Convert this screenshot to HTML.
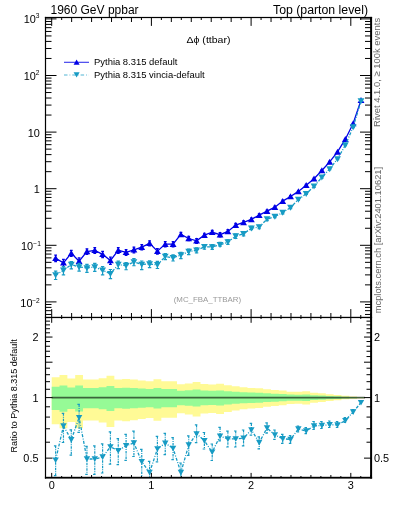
<!DOCTYPE html><html><head><meta charset="utf-8"><style>html,body{margin:0;padding:0;background:#fff;}svg{display:block;}text{font-family:"Liberation Sans",sans-serif;}</style></head><body>
<svg width="393" height="512" viewBox="0 0 393 512" style="will-change:transform">
<path d="M51.70,377.25 L59.53,377.25 L59.53,374.90 L67.36,374.90 L67.36,378.48 L75.19,378.48 L75.19,375.02 L83.02,375.02 L83.02,379.43 L90.85,379.43 L90.85,379.43 L98.68,379.43 L98.68,378.21 L106.51,378.21 L106.51,375.63 L114.34,375.63 L114.34,379.43 L122.17,379.43 L122.17,378.95 L130.00,378.95 L130.00,379.58 L137.83,379.58 L137.83,380.42 L145.67,380.42 L145.67,381.13 L153.50,381.13 L153.50,379.31 L161.33,379.31 L161.33,381.18 L169.16,381.18 L169.16,381.18 L176.99,381.18 L176.99,384.25 L184.82,384.25 L184.82,383.46 L192.65,383.46 L192.65,382.04 L200.48,382.04 L200.48,384.11 L208.31,384.11 L208.31,384.44 L216.14,384.44 L216.14,383.86 L223.97,383.86 L223.97,385.29 L231.80,385.29 L231.80,386.33 L239.63,386.33 L239.63,387.36 L247.46,387.36 L247.46,387.89 L255.29,387.89 L255.29,388.22 L263.12,388.22 L263.12,389.32 L270.95,389.32 L270.95,389.91 L278.78,389.91 L278.78,390.57 L286.61,390.57 L286.61,391.63 L294.44,391.63 L294.44,391.82 L302.27,391.82 L302.27,391.28 L310.10,391.28 L310.10,392.84 L317.93,392.84 L317.93,393.34 L325.76,393.34 L325.76,394.34 L333.60,394.34 L333.60,395.02 L341.43,395.02 L341.43,395.87 L349.26,395.87 L349.26,396.39 L357.09,396.39 L357.09,396.90 L364.92,396.90 L364.92,398.30 L357.09,398.30 L357.09,398.83 L349.26,398.83 L349.26,399.36 L341.43,399.36 L341.43,400.26 L333.60,400.26 L333.60,400.98 L325.76,400.98 L325.76,402.08 L317.93,402.08 L317.93,402.63 L310.10,402.63 L310.10,404.41 L302.27,404.41 L302.27,403.79 L294.44,403.79 L294.44,404.01 L286.61,404.01 L286.61,405.24 L278.78,405.24 L278.78,406.03 L270.95,406.03 L270.95,406.74 L263.12,406.74 L263.12,408.11 L255.29,408.11 L255.29,408.53 L247.46,408.53 L247.46,409.20 L239.63,409.20 L239.63,410.55 L231.80,410.55 L231.80,411.94 L223.97,411.94 L223.97,413.92 L216.14,413.92 L216.14,413.10 L208.31,413.10 L208.31,413.56 L200.48,413.56 L200.48,416.54 L192.65,416.54 L192.65,414.49 L184.82,414.49 L184.82,413.37 L176.99,413.37 L176.99,417.83 L169.16,417.83 L169.16,417.83 L161.33,417.83 L161.33,420.77 L153.50,420.77 L153.50,417.92 L145.67,417.92 L145.67,419.01 L137.83,419.01 L137.83,420.34 L130.00,420.34 L130.00,421.34 L122.17,421.34 L122.17,420.56 L114.34,420.56 L114.34,427.02 L106.51,427.02 L106.51,422.56 L98.68,422.56 L98.68,420.56 L90.85,420.56 L90.85,420.56 L83.02,420.56 L83.02,428.13 L75.19,428.13 L75.19,422.12 L67.36,422.12 L67.36,428.35 L59.53,428.35 L59.53,424.18 L51.70,424.18 Z" fill="#fffa96"/>
<path d="M51.70,386.83 L59.53,386.83 L59.53,385.52 L67.36,385.52 L67.36,387.52 L75.19,387.52 L75.19,385.58 L83.02,385.58 L83.02,388.05 L90.85,388.05 L90.85,388.05 L98.68,388.05 L98.68,387.37 L106.51,387.37 L106.51,385.93 L114.34,385.93 L114.34,388.05 L122.17,388.05 L122.17,387.78 L130.00,387.78 L130.00,388.12 L137.83,388.12 L137.83,388.59 L145.67,388.59 L145.67,388.97 L153.50,388.97 L153.50,387.98 L161.33,387.98 L161.33,389.01 L169.16,389.01 L169.16,389.01 L176.99,389.01 L176.99,390.67 L184.82,390.67 L184.82,390.24 L192.65,390.24 L192.65,389.47 L200.48,389.47 L200.48,390.60 L208.31,390.60 L208.31,390.77 L216.14,390.77 L216.14,390.46 L223.97,390.46 L223.97,391.23 L231.80,391.23 L231.80,391.78 L239.63,391.78 L239.63,392.33 L247.46,392.33 L247.46,392.61 L255.29,392.61 L255.29,392.78 L263.12,392.78 L263.12,393.36 L270.95,393.36 L270.95,393.67 L278.78,393.67 L278.78,394.02 L286.61,394.02 L286.61,394.56 L294.44,394.56 L294.44,394.66 L302.27,394.66 L302.27,394.38 L310.10,394.38 L310.10,395.19 L317.93,395.19 L317.93,395.44 L325.76,395.44 L325.76,395.96 L333.60,395.96 L333.60,396.30 L341.43,396.30 L341.43,396.73 L349.26,396.73 L349.26,396.99 L357.09,396.99 L357.09,397.25 L364.92,397.25 L364.92,397.95 L357.09,397.95 L357.09,398.21 L349.26,398.21 L349.26,398.48 L341.43,398.48 L341.43,398.92 L333.60,398.92 L333.60,399.28 L325.76,399.28 L325.76,399.81 L317.93,399.81 L317.93,400.08 L310.10,400.08 L310.10,400.94 L302.27,400.94 L302.27,400.64 L294.44,400.64 L294.44,400.75 L286.61,400.75 L286.61,401.34 L278.78,401.34 L278.78,401.71 L270.95,401.71 L270.95,402.05 L263.12,402.05 L263.12,402.70 L255.29,402.70 L255.29,402.89 L247.46,402.89 L247.46,403.21 L239.63,403.21 L239.63,403.83 L231.80,403.83 L231.80,404.48 L223.97,404.48 L223.97,405.38 L216.14,405.38 L216.14,405.01 L208.31,405.01 L208.31,405.22 L200.48,405.22 L200.48,406.56 L192.65,406.56 L192.65,405.64 L184.82,405.64 L184.82,405.13 L176.99,405.13 L176.99,407.13 L169.16,407.13 L169.16,407.13 L161.33,407.13 L161.33,408.42 L153.50,408.42 L153.50,407.17 L145.67,407.17 L145.67,407.65 L137.83,407.65 L137.83,408.23 L130.00,408.23 L130.00,408.67 L122.17,408.67 L122.17,408.33 L114.34,408.33 L114.34,411.08 L106.51,411.08 L106.51,409.19 L98.68,409.19 L98.68,408.33 L90.85,408.33 L90.85,408.33 L83.02,408.33 L83.02,411.54 L75.19,411.54 L75.19,409.00 L67.36,409.00 L67.36,411.63 L59.53,411.63 L59.53,409.88 L51.70,409.88 Z" fill="#96fa96"/>
<line x1="51.70" y1="397.6" x2="364.92" y2="397.6" stroke="#000" stroke-opacity="0.6" stroke-width="1.8"/>
<defs><clipPath id="cm"><rect x="45.5" y="17.5" width="325.5" height="300.0"/></clipPath><clipPath id="cr"><rect x="45.5" y="317.5" width="325.5" height="160.0"/></clipPath></defs>
<g clip-path="url(#cm)">
<polyline points="55.62,258.20 63.45,262.80 71.28,253.20 79.11,261.20 86.94,251.50 94.77,250.30 102.60,254.30 110.43,260.50 118.26,250.30 126.09,252.30 133.92,249.80 141.75,247.10 149.58,243.30 157.41,251.20 165.24,244.10 173.07,244.10 180.90,234.40 188.73,238.50 196.56,240.80 204.39,235.20 212.22,232.20 220.05,234.70 227.88,231.40 235.71,225.10 243.55,222.40 251.38,219.40 259.21,215.10 267.04,211.20 274.87,207.20 282.70,201.10 290.53,196.50 298.36,191.40 306.19,185.30 314.02,178.70 321.85,170.50 329.68,161.90 337.51,151.90 345.34,139.20 353.17,123.50 361.00,100.10" fill="none" stroke="#0000e6" stroke-width="1.3"/>
<path d="M55.62,255.17 V261.66 M54.22,255.17 H57.02 M54.22,261.66 H57.02" stroke="#0000e6" stroke-width="1.2" fill="none"/>
<path d="M63.45,259.40 V266.75 M62.05,259.40 H64.85 M62.05,266.75 H64.85" stroke="#0000e6" stroke-width="1.2" fill="none"/>
<path d="M71.28,250.36 V256.41 M69.88,250.36 H72.68 M69.88,256.41 H72.68" stroke="#0000e6" stroke-width="1.2" fill="none"/>
<path d="M79.11,257.82 V265.12 M77.71,257.82 H80.51 M77.71,265.12 H80.51" stroke="#0000e6" stroke-width="1.2" fill="none"/>
<path d="M86.94,248.81 V254.52 M85.54,248.81 H88.34 M85.54,254.52 H88.34" stroke="#0000e6" stroke-width="1.2" fill="none"/>
<path d="M94.77,247.61 V253.32 M93.37,247.61 H96.17 M93.37,253.32 H96.17" stroke="#0000e6" stroke-width="1.2" fill="none"/>
<path d="M102.60,251.42 V257.56 M101.20,251.42 H104.00 M101.20,257.56 H104.00" stroke="#0000e6" stroke-width="1.2" fill="none"/>
<path d="M110.43,257.21 V264.29 M109.03,257.21 H111.83 M109.03,264.29 H111.83" stroke="#0000e6" stroke-width="1.2" fill="none"/>
<path d="M118.26,247.61 V253.32 M116.86,247.61 H119.66 M116.86,253.32 H119.66" stroke="#0000e6" stroke-width="1.2" fill="none"/>
<path d="M126.09,249.54 V255.41 M124.69,249.54 H127.49 M124.69,255.41 H127.49" stroke="#0000e6" stroke-width="1.2" fill="none"/>
<path d="M133.92,247.13 V252.79 M132.52,247.13 H135.32 M132.52,252.79 H135.32" stroke="#0000e6" stroke-width="1.2" fill="none"/>
<path d="M141.75,244.56 V249.93 M140.35,244.56 H143.15 M140.35,249.93 H143.15" stroke="#0000e6" stroke-width="1.2" fill="none"/>
<path d="M149.58,240.87 V245.99 M148.18,240.87 H150.98 M148.18,245.99 H150.98" stroke="#0000e6" stroke-width="1.2" fill="none"/>
<path d="M157.41,248.49 V254.24 M156.01,248.49 H158.81 M156.01,254.24 H158.81" stroke="#0000e6" stroke-width="1.2" fill="none"/>
<path d="M165.24,241.68 V246.78 M163.84,241.68 H166.64 M163.84,246.78 H166.64" stroke="#0000e6" stroke-width="1.2" fill="none"/>
<path d="M173.07,241.68 V246.78 M171.67,241.68 H174.47 M171.67,246.78 H174.47" stroke="#0000e6" stroke-width="1.2" fill="none"/>
<path d="M180.90,232.45 V236.52 M179.50,232.45 H182.30 M179.50,236.52 H182.30" stroke="#0000e6" stroke-width="1.2" fill="none"/>
<path d="M188.73,236.43 V240.76 M187.33,236.43 H190.13 M187.33,240.76 H190.13" stroke="#0000e6" stroke-width="1.2" fill="none"/>
<path d="M196.56,238.51 V243.32 M195.16,238.51 H197.96 M195.16,243.32 H197.96" stroke="#0000e6" stroke-width="1.2" fill="none"/>
<path d="M204.39,233.23 V237.34 M202.99,233.23 H205.79 M202.99,237.34 H205.79" stroke="#0000e6" stroke-width="1.2" fill="none"/>
<path d="M212.22,230.28 V234.28 M210.82,230.28 H213.62 M210.82,234.28 H213.62" stroke="#0000e6" stroke-width="1.2" fill="none"/>
<path d="M220.05,232.69 V236.89 M218.65,232.69 H221.45 M218.65,236.89 H221.45" stroke="#0000e6" stroke-width="1.2" fill="none"/>
<path d="M227.88,229.61 V233.33 M226.48,229.61 H229.28 M226.48,233.33 H229.28" stroke="#0000e6" stroke-width="1.2" fill="none"/>
<path d="M235.71,223.46 V226.85 M234.31,223.46 H237.11 M234.31,226.85 H237.11" stroke="#0000e6" stroke-width="1.2" fill="none"/>
<path d="M243.55,220.92 V223.98 M242.15,220.92 H244.95 M242.15,223.98 H244.95" stroke="#0000e6" stroke-width="1.2" fill="none"/>
<path d="M251.38,218.00 V220.89 M249.98,218.00 H252.78 M249.98,220.89 H252.78" stroke="#0000e6" stroke-width="1.2" fill="none"/>
<path d="M259.21,213.74 V216.53 M257.81,213.74 H260.61 M257.81,216.53 H260.61" stroke="#0000e6" stroke-width="1.2" fill="none"/>
<path d="M267.04,210.01 V212.45 M265.64,210.01 H268.44 M265.64,212.45 H268.44" stroke="#0000e6" stroke-width="1.2" fill="none"/>
<path d="M274.87,206.09 V208.36 M273.47,206.09 H276.27 M273.47,208.36 H276.27" stroke="#0000e6" stroke-width="1.2" fill="none"/>
<path d="M282.70,200.09 V202.15 M281.30,200.09 H284.10 M281.30,202.15 H284.10" stroke="#0000e6" stroke-width="1.2" fill="none"/>
<path d="M290.53,195.64 V197.39 M289.13,195.64 H291.93 M289.13,197.39 H291.93" stroke="#0000e6" stroke-width="1.2" fill="none"/>
<path d="M298.36,190.57 V192.26 M296.96,190.57 H299.76 M296.96,192.26 H299.76" stroke="#0000e6" stroke-width="1.2" fill="none"/>
<path d="M306.19,184.40 V186.24 M304.79,184.40 H307.59 M304.79,186.24 H307.59" stroke="#0000e6" stroke-width="1.2" fill="none"/>
<path d="M314.02,178.02 V179.40 M312.62,178.02 H315.42 M312.62,179.40 H315.42" stroke="#0000e6" stroke-width="1.2" fill="none"/>
<path d="M321.85,169.89 V171.12 M320.45,169.89 H323.25 M320.45,171.12 H323.25" stroke="#0000e6" stroke-width="1.2" fill="none"/>
<path d="M329.68,161.44 V162.37 M328.28,161.44 H331.08 M328.28,162.37 H331.08" stroke="#0000e6" stroke-width="1.2" fill="none"/>
<path d="M337.51,151.53 V152.27 M336.11,151.53 H338.91 M336.11,152.27 H338.91" stroke="#0000e6" stroke-width="1.2" fill="none"/>
<path d="M345.34,138.96 V139.45 M343.94,138.96 H346.74 M343.94,139.45 H346.74" stroke="#0000e6" stroke-width="1.2" fill="none"/>
<path d="M353.17,123.33 V123.67 M351.77,123.33 H354.57 M351.77,123.67 H354.57" stroke="#0000e6" stroke-width="1.2" fill="none"/>
<path d="M361.00,100.00 V100.20 M359.60,100.00 H362.40 M359.60,100.20 H362.40" stroke="#0000e6" stroke-width="1.2" fill="none"/>
<path d="M55.62,255.00 L59.04,261.02 L52.19,261.02 Z" fill="#0000e6"/>
<path d="M63.45,259.60 L66.87,265.62 L60.02,265.62 Z" fill="#0000e6"/>
<path d="M71.28,250.00 L74.70,256.02 L67.85,256.02 Z" fill="#0000e6"/>
<path d="M79.11,258.00 L82.53,264.02 L75.68,264.02 Z" fill="#0000e6"/>
<path d="M86.94,248.30 L90.36,254.32 L83.51,254.32 Z" fill="#0000e6"/>
<path d="M94.77,247.10 L98.19,253.12 L91.34,253.12 Z" fill="#0000e6"/>
<path d="M102.60,251.10 L106.02,257.12 L99.17,257.12 Z" fill="#0000e6"/>
<path d="M110.43,257.30 L113.85,263.32 L107.00,263.32 Z" fill="#0000e6"/>
<path d="M118.26,247.10 L121.68,253.12 L114.83,253.12 Z" fill="#0000e6"/>
<path d="M126.09,249.10 L129.51,255.12 L122.66,255.12 Z" fill="#0000e6"/>
<path d="M133.92,246.60 L137.34,252.62 L130.50,252.62 Z" fill="#0000e6"/>
<path d="M141.75,243.90 L145.17,249.92 L138.33,249.92 Z" fill="#0000e6"/>
<path d="M149.58,240.10 L153.00,246.12 L146.16,246.12 Z" fill="#0000e6"/>
<path d="M157.41,248.00 L160.83,254.02 L153.99,254.02 Z" fill="#0000e6"/>
<path d="M165.24,240.90 L168.67,246.92 L161.82,246.92 Z" fill="#0000e6"/>
<path d="M173.07,240.90 L176.50,246.92 L169.65,246.92 Z" fill="#0000e6"/>
<path d="M180.90,231.20 L184.33,237.22 L177.48,237.22 Z" fill="#0000e6"/>
<path d="M188.73,235.30 L192.16,241.32 L185.31,241.32 Z" fill="#0000e6"/>
<path d="M196.56,237.60 L199.99,243.62 L193.14,243.62 Z" fill="#0000e6"/>
<path d="M204.39,232.00 L207.82,238.02 L200.97,238.02 Z" fill="#0000e6"/>
<path d="M212.22,229.00 L215.65,235.02 L208.80,235.02 Z" fill="#0000e6"/>
<path d="M220.05,231.50 L223.48,237.52 L216.63,237.52 Z" fill="#0000e6"/>
<path d="M227.88,228.20 L231.31,234.22 L224.46,234.22 Z" fill="#0000e6"/>
<path d="M235.71,221.90 L239.14,227.92 L232.29,227.92 Z" fill="#0000e6"/>
<path d="M243.55,219.20 L246.97,225.22 L240.12,225.22 Z" fill="#0000e6"/>
<path d="M251.38,216.20 L254.80,222.22 L247.95,222.22 Z" fill="#0000e6"/>
<path d="M259.21,211.90 L262.63,217.92 L255.78,217.92 Z" fill="#0000e6"/>
<path d="M267.04,208.00 L270.46,214.02 L263.61,214.02 Z" fill="#0000e6"/>
<path d="M274.87,204.00 L278.29,210.02 L271.44,210.02 Z" fill="#0000e6"/>
<path d="M282.70,197.90 L286.12,203.92 L279.27,203.92 Z" fill="#0000e6"/>
<path d="M290.53,193.30 L293.95,199.32 L287.10,199.32 Z" fill="#0000e6"/>
<path d="M298.36,188.20 L301.78,194.22 L294.93,194.22 Z" fill="#0000e6"/>
<path d="M306.19,182.10 L309.61,188.12 L302.76,188.12 Z" fill="#0000e6"/>
<path d="M314.02,175.50 L317.44,181.52 L310.60,181.52 Z" fill="#0000e6"/>
<path d="M321.85,167.30 L325.27,173.32 L318.43,173.32 Z" fill="#0000e6"/>
<path d="M329.68,158.70 L333.10,164.72 L326.26,164.72 Z" fill="#0000e6"/>
<path d="M337.51,148.70 L340.93,154.72 L334.09,154.72 Z" fill="#0000e6"/>
<path d="M345.34,136.00 L348.76,142.02 L341.92,142.02 Z" fill="#0000e6"/>
<path d="M353.17,120.30 L356.60,126.32 L349.75,126.32 Z" fill="#0000e6"/>
<path d="M361.00,96.90 L364.43,102.92 L357.58,102.92 Z" fill="#0000e6"/>
<polyline points="55.62,275.13 63.45,270.28 71.28,264.50 79.11,266.99 86.94,267.97 94.77,267.02 102.60,270.39 110.43,273.70 118.26,264.60 126.09,265.63 133.92,261.97 141.75,264.45 149.58,264.02 157.41,264.91 165.24,256.45 173.07,257.81 180.90,255.12 188.73,251.60 196.56,250.32 204.39,246.84 212.22,246.95 220.05,244.90 227.88,242.14 235.71,236.18 243.55,233.79 251.38,228.21 259.21,226.95 267.04,219.16 274.87,216.48 282.70,212.66 290.53,207.56 298.36,199.45 306.19,193.78 314.02,186.31 321.85,177.41 329.68,168.94 337.51,158.97 345.34,145.17 353.17,127.11 361.00,101.08" fill="none" stroke="#179bc4" stroke-width="1.3" stroke-dasharray="3,1.5,1,1.5"/>
<path d="M55.62,271.10 V279.49 M53.92,271.10 H57.32 M53.92,279.49 H57.32" stroke="#179bc4" stroke-width="1.2" fill="none"/>
<path d="M63.45,266.70 V274.92 M61.75,266.70 H65.15 M61.75,274.92 H65.15" stroke="#179bc4" stroke-width="1.2" fill="none"/>
<path d="M71.28,261.72 V268.87 M69.58,261.72 H72.98 M69.58,268.87 H72.98" stroke="#179bc4" stroke-width="1.2" fill="none"/>
<path d="M79.11,263.28 V271.13 M77.41,263.28 H80.81 M77.41,271.13 H80.81" stroke="#179bc4" stroke-width="1.2" fill="none"/>
<path d="M86.94,264.40 V272.28 M85.24,264.40 H88.64 M85.24,272.28 H88.64" stroke="#179bc4" stroke-width="1.2" fill="none"/>
<path d="M94.77,263.31 V271.33 M93.07,263.31 H96.47 M93.07,271.33 H96.47" stroke="#179bc4" stroke-width="1.2" fill="none"/>
<path d="M102.60,266.67 V274.89 M100.90,266.67 H104.30 M100.90,274.89 H104.30" stroke="#179bc4" stroke-width="1.2" fill="none"/>
<path d="M110.43,269.48 V278.57 M108.73,269.48 H112.13 M108.73,278.57 H112.13" stroke="#179bc4" stroke-width="1.2" fill="none"/>
<path d="M118.26,261.22 V268.54 M116.56,261.22 H119.96 M116.56,268.54 H119.96" stroke="#179bc4" stroke-width="1.2" fill="none"/>
<path d="M126.09,262.48 V269.77 M124.39,262.48 H127.79 M124.39,269.77 H127.79" stroke="#179bc4" stroke-width="1.2" fill="none"/>
<path d="M133.92,258.62 V265.77 M132.22,258.62 H135.62 M132.22,265.77 H135.62" stroke="#179bc4" stroke-width="1.2" fill="none"/>
<path d="M141.75,260.99 V269.60 M140.05,260.99 H143.45 M140.05,269.60 H143.45" stroke="#179bc4" stroke-width="1.2" fill="none"/>
<path d="M149.58,260.87 V267.54 M147.88,260.87 H151.28 M147.88,267.54 H151.28" stroke="#179bc4" stroke-width="1.2" fill="none"/>
<path d="M157.41,261.34 V268.52 M155.71,261.34 H159.11 M155.71,268.52 H159.11" stroke="#179bc4" stroke-width="1.2" fill="none"/>
<path d="M165.24,253.66 V259.68 M163.54,253.66 H166.94 M163.54,259.68 H166.94" stroke="#179bc4" stroke-width="1.2" fill="none"/>
<path d="M173.07,254.80 V261.02 M171.37,254.80 H174.77 M171.37,261.02 H174.77" stroke="#179bc4" stroke-width="1.2" fill="none"/>
<path d="M180.90,252.45 V258.64 M179.20,252.45 H182.60 M179.20,258.64 H182.60" stroke="#179bc4" stroke-width="1.2" fill="none"/>
<path d="M188.73,249.01 V254.53 M187.03,249.01 H190.43 M187.03,254.53 H190.43" stroke="#179bc4" stroke-width="1.2" fill="none"/>
<path d="M196.56,247.82 V252.83 M194.86,247.82 H198.26 M194.86,252.83 H198.26" stroke="#179bc4" stroke-width="1.2" fill="none"/>
<path d="M204.39,244.54 V249.18 M202.69,244.54 H206.09 M202.69,249.18 H206.09" stroke="#179bc4" stroke-width="1.2" fill="none"/>
<path d="M212.22,244.67 V249.31 M210.52,244.67 H213.92 M210.52,249.31 H213.92" stroke="#179bc4" stroke-width="1.2" fill="none"/>
<path d="M220.05,242.45 V246.25 M218.35,242.45 H221.75 M218.35,246.25 H221.75" stroke="#179bc4" stroke-width="1.2" fill="none"/>
<path d="M227.88,239.97 V244.42 M226.18,239.97 H229.58 M226.18,244.42 H229.58" stroke="#179bc4" stroke-width="1.2" fill="none"/>
<path d="M235.71,233.98 V238.49 M234.01,233.98 H237.41 M234.01,238.49 H237.41" stroke="#179bc4" stroke-width="1.2" fill="none"/>
<path d="M243.55,231.49 V235.93 M241.85,231.49 H245.25 M241.85,235.93 H245.25" stroke="#179bc4" stroke-width="1.2" fill="none"/>
<path d="M251.38,226.41 V229.70 M249.68,226.41 H253.08 M249.68,229.70 H253.08" stroke="#179bc4" stroke-width="1.2" fill="none"/>
<path d="M259.21,225.37 V228.75 M257.51,225.37 H260.91 M257.51,228.75 H260.91" stroke="#179bc4" stroke-width="1.2" fill="none"/>
<path d="M267.04,217.72 V220.59 M265.34,217.72 H268.74 M265.34,220.59 H268.74" stroke="#179bc4" stroke-width="1.2" fill="none"/>
<path d="M274.87,215.10 V217.75 M273.17,215.10 H276.57 M273.17,217.75 H276.57" stroke="#179bc4" stroke-width="1.2" fill="none"/>
<path d="M282.70,211.45 V213.96 M281.00,211.45 H284.40 M281.00,213.96 H284.40" stroke="#179bc4" stroke-width="1.2" fill="none"/>
<path d="M290.53,206.49 V208.66 M288.83,206.49 H292.23 M288.83,208.66 H292.23" stroke="#179bc4" stroke-width="1.2" fill="none"/>
<path d="M298.36,198.60 V200.24 M296.66,198.60 H300.06 M296.66,200.24 H300.06" stroke="#179bc4" stroke-width="1.2" fill="none"/>
<path d="M306.19,192.79 V194.51 M304.49,192.79 H307.89 M304.49,194.51 H307.89" stroke="#179bc4" stroke-width="1.2" fill="none"/>
<path d="M314.02,185.07 V187.33 M312.32,185.07 H315.72 M312.32,187.33 H315.72" stroke="#179bc4" stroke-width="1.2" fill="none"/>
<path d="M321.85,176.28 V178.25 M320.15,176.28 H323.55 M320.15,178.25 H323.55" stroke="#179bc4" stroke-width="1.2" fill="none"/>
<path d="M329.68,167.90 V169.73 M327.98,167.90 H331.38 M327.98,169.73 H331.38" stroke="#179bc4" stroke-width="1.2" fill="none"/>
<path d="M337.51,158.01 V159.70 M335.81,158.01 H339.21 M335.81,159.70 H339.21" stroke="#179bc4" stroke-width="1.2" fill="none"/>
<path d="M345.34,144.29 V145.70 M343.64,144.29 H347.04 M343.64,145.70 H347.04" stroke="#179bc4" stroke-width="1.2" fill="none"/>
<path d="M353.17,126.40 V127.53 M351.47,126.40 H354.87 M351.47,127.53 H354.87" stroke="#179bc4" stroke-width="1.2" fill="none"/>
<path d="M361.00,100.49 V101.34 M359.30,100.49 H362.70 M359.30,101.34 H362.70" stroke="#179bc4" stroke-width="1.2" fill="none"/>
<path d="M55.62,278.33 L59.04,272.31 L52.19,272.31 Z" fill="#179bc4"/>
<path d="M63.45,273.48 L66.87,267.46 L60.02,267.46 Z" fill="#179bc4"/>
<path d="M71.28,267.70 L74.70,261.69 L67.85,261.69 Z" fill="#179bc4"/>
<path d="M79.11,270.19 L82.53,264.18 L75.68,264.18 Z" fill="#179bc4"/>
<path d="M86.94,271.17 L90.36,265.15 L83.51,265.15 Z" fill="#179bc4"/>
<path d="M94.77,270.22 L98.19,264.20 L91.34,264.20 Z" fill="#179bc4"/>
<path d="M102.60,273.59 L106.02,267.57 L99.17,267.57 Z" fill="#179bc4"/>
<path d="M110.43,276.90 L113.85,270.89 L107.00,270.89 Z" fill="#179bc4"/>
<path d="M118.26,267.80 L121.68,261.79 L114.83,261.79 Z" fill="#179bc4"/>
<path d="M126.09,268.83 L129.51,262.82 L122.66,262.82 Z" fill="#179bc4"/>
<path d="M133.92,265.17 L137.34,259.15 L130.50,259.15 Z" fill="#179bc4"/>
<path d="M141.75,267.65 L145.17,261.63 L138.33,261.63 Z" fill="#179bc4"/>
<path d="M149.58,267.22 L153.00,261.20 L146.16,261.20 Z" fill="#179bc4"/>
<path d="M157.41,268.11 L160.83,262.10 L153.99,262.10 Z" fill="#179bc4"/>
<path d="M165.24,259.65 L168.67,253.63 L161.82,253.63 Z" fill="#179bc4"/>
<path d="M173.07,261.01 L176.50,255.00 L169.65,255.00 Z" fill="#179bc4"/>
<path d="M180.90,258.32 L184.33,252.30 L177.48,252.30 Z" fill="#179bc4"/>
<path d="M188.73,254.80 L192.16,248.78 L185.31,248.78 Z" fill="#179bc4"/>
<path d="M196.56,253.52 L199.99,247.51 L193.14,247.51 Z" fill="#179bc4"/>
<path d="M204.39,250.04 L207.82,244.03 L200.97,244.03 Z" fill="#179bc4"/>
<path d="M212.22,250.15 L215.65,244.13 L208.80,244.13 Z" fill="#179bc4"/>
<path d="M220.05,248.10 L223.48,242.08 L216.63,242.08 Z" fill="#179bc4"/>
<path d="M227.88,245.34 L231.31,239.33 L224.46,239.33 Z" fill="#179bc4"/>
<path d="M235.71,239.38 L239.14,233.36 L232.29,233.36 Z" fill="#179bc4"/>
<path d="M243.55,236.99 L246.97,230.98 L240.12,230.98 Z" fill="#179bc4"/>
<path d="M251.38,231.41 L254.80,225.40 L247.95,225.40 Z" fill="#179bc4"/>
<path d="M259.21,230.15 L262.63,224.13 L255.78,224.13 Z" fill="#179bc4"/>
<path d="M267.04,222.36 L270.46,216.34 L263.61,216.34 Z" fill="#179bc4"/>
<path d="M274.87,219.68 L278.29,213.66 L271.44,213.66 Z" fill="#179bc4"/>
<path d="M282.70,215.86 L286.12,209.85 L279.27,209.85 Z" fill="#179bc4"/>
<path d="M290.53,210.76 L293.95,204.75 L287.10,204.75 Z" fill="#179bc4"/>
<path d="M298.36,202.65 L301.78,196.63 L294.93,196.63 Z" fill="#179bc4"/>
<path d="M306.19,196.98 L309.61,190.96 L302.76,190.96 Z" fill="#179bc4"/>
<path d="M314.02,189.51 L317.44,183.50 L310.60,183.50 Z" fill="#179bc4"/>
<path d="M321.85,180.61 L325.27,174.59 L318.43,174.59 Z" fill="#179bc4"/>
<path d="M329.68,172.14 L333.10,166.13 L326.26,166.13 Z" fill="#179bc4"/>
<path d="M337.51,162.17 L340.93,156.16 L334.09,156.16 Z" fill="#179bc4"/>
<path d="M345.34,148.37 L348.76,142.35 L341.92,142.35 Z" fill="#179bc4"/>
<path d="M353.17,130.31 L356.60,124.29 L349.75,124.29 Z" fill="#179bc4"/>
<path d="M361.00,104.28 L364.43,98.27 L357.58,98.27 Z" fill="#179bc4"/>
</g>
<g clip-path="url(#cr)">
<polyline points="55.62,460.10 63.45,426.00 71.28,439.70 79.11,417.60 86.94,459.00 94.77,459.00 102.60,457.00 110.43,446.80 118.26,450.70 126.09,445.60 133.92,443.00 141.75,461.70 149.58,472.50 157.41,449.00 165.24,443.20 173.07,448.30 180.90,472.50 188.73,445.00 196.56,433.80 204.39,440.70 212.22,452.10 220.05,436.10 227.88,438.90 235.71,438.80 243.55,438.20 251.38,429.80 259.21,442.50 267.04,428.00 274.87,434.90 282.70,438.70 290.53,439.40 298.36,429.00 306.19,431.00 314.02,425.90 321.85,425.50 329.68,424.70 337.51,424.90 345.34,420.60 353.17,412.00 361.00,402.60" fill="none" stroke="#179bc4" stroke-width="1.3" stroke-dasharray="3,1.5,1,1.5"/>
<path d="M55.62,445.80 V475.60 M53.92,445.80 H57.32 M53.92,475.60 H57.32" stroke="#179bc4" stroke-width="1.2" stroke-dasharray="2.5,1,1,1" fill="none"/>
<path d="M63.45,413.30 V442.50 M61.75,413.30 H65.15 M61.75,442.50 H65.15" stroke="#179bc4" stroke-width="1.2" stroke-dasharray="2.5,1,1,1" fill="none"/>
<path d="M71.28,429.80 V455.20 M69.58,429.80 H72.98 M69.58,455.20 H72.98" stroke="#179bc4" stroke-width="1.2" stroke-dasharray="2.5,1,1,1" fill="none"/>
<path d="M79.11,404.40 V432.30 M77.41,404.40 H80.81 M77.41,432.30 H80.81" stroke="#179bc4" stroke-width="1.2" stroke-dasharray="2.5,1,1,1" fill="none"/>
<path d="M86.94,446.30 V474.30 M85.24,446.30 H88.64 M85.24,474.30 H88.64" stroke="#179bc4" stroke-width="1.2" stroke-dasharray="2.5,1,1,1" fill="none"/>
<path d="M94.77,445.80 V474.30 M93.07,445.80 H96.47 M93.07,474.30 H96.47" stroke="#179bc4" stroke-width="1.2" stroke-dasharray="2.5,1,1,1" fill="none"/>
<path d="M102.60,443.80 V473.00 M100.90,443.80 H104.30 M100.90,473.00 H104.30" stroke="#179bc4" stroke-width="1.2" stroke-dasharray="2.5,1,1,1" fill="none"/>
<path d="M110.43,431.80 V464.10 M108.73,431.80 H112.13 M108.73,464.10 H112.13" stroke="#179bc4" stroke-width="1.2" stroke-dasharray="2.5,1,1,1" fill="none"/>
<path d="M118.26,438.70 V464.70 M116.56,438.70 H119.96 M116.56,464.70 H119.96" stroke="#179bc4" stroke-width="1.2" stroke-dasharray="2.5,1,1,1" fill="none"/>
<path d="M126.09,434.40 V460.30 M124.39,434.40 H127.79 M124.39,460.30 H127.79" stroke="#179bc4" stroke-width="1.2" stroke-dasharray="2.5,1,1,1" fill="none"/>
<path d="M133.92,431.10 V456.50 M132.22,431.10 H135.62 M132.22,456.50 H135.62" stroke="#179bc4" stroke-width="1.2" stroke-dasharray="2.5,1,1,1" fill="none"/>
<path d="M141.75,449.40 V480.00 M140.05,449.40 H143.45 M140.05,480.00 H143.45" stroke="#179bc4" stroke-width="1.2" stroke-dasharray="2.5,1,1,1" fill="none"/>
<path d="M149.58,461.30 V485.00 M147.88,461.30 H151.28 M147.88,485.00 H151.28" stroke="#179bc4" stroke-width="1.2" stroke-dasharray="2.5,1,1,1" fill="none"/>
<path d="M157.41,436.30 V461.80 M155.71,436.30 H159.11 M155.71,461.80 H159.11" stroke="#179bc4" stroke-width="1.2" stroke-dasharray="2.5,1,1,1" fill="none"/>
<path d="M165.24,433.30 V454.70 M163.54,433.30 H166.94 M163.54,454.70 H166.94" stroke="#179bc4" stroke-width="1.2" stroke-dasharray="2.5,1,1,1" fill="none"/>
<path d="M173.07,437.60 V459.70 M171.37,437.60 H174.77 M171.37,459.70 H174.77" stroke="#179bc4" stroke-width="1.2" stroke-dasharray="2.5,1,1,1" fill="none"/>
<path d="M180.90,463.00 V485.00 M179.20,463.00 H182.60 M179.20,485.00 H182.60" stroke="#179bc4" stroke-width="1.2" stroke-dasharray="2.5,1,1,1" fill="none"/>
<path d="M188.73,435.80 V455.40 M187.03,435.80 H190.43 M187.03,455.40 H190.43" stroke="#179bc4" stroke-width="1.2" stroke-dasharray="2.5,1,1,1" fill="none"/>
<path d="M196.56,424.90 V442.70 M194.86,424.90 H198.26 M194.86,442.70 H198.26" stroke="#179bc4" stroke-width="1.2" stroke-dasharray="2.5,1,1,1" fill="none"/>
<path d="M204.39,432.50 V449.00 M202.69,432.50 H206.09 M202.69,449.00 H206.09" stroke="#179bc4" stroke-width="1.2" stroke-dasharray="2.5,1,1,1" fill="none"/>
<path d="M212.22,444.00 V460.50 M210.52,444.00 H213.92 M210.52,460.50 H213.92" stroke="#179bc4" stroke-width="1.2" stroke-dasharray="2.5,1,1,1" fill="none"/>
<path d="M220.05,427.40 V440.90 M218.35,427.40 H221.75 M218.35,440.90 H221.75" stroke="#179bc4" stroke-width="1.2" stroke-dasharray="2.5,1,1,1" fill="none"/>
<path d="M227.88,431.20 V447.00 M226.18,431.20 H229.58 M226.18,447.00 H229.58" stroke="#179bc4" stroke-width="1.2" stroke-dasharray="2.5,1,1,1" fill="none"/>
<path d="M235.71,431.00 V447.00 M234.01,431.00 H237.41 M234.01,447.00 H237.41" stroke="#179bc4" stroke-width="1.2" stroke-dasharray="2.5,1,1,1" fill="none"/>
<path d="M243.55,430.00 V445.80 M241.85,430.00 H245.25 M241.85,445.80 H245.25" stroke="#179bc4" stroke-width="1.2" stroke-dasharray="2.5,1,1,1" fill="none"/>
<path d="M251.38,423.40 V435.10 M249.68,423.40 H253.08 M249.68,435.10 H253.08" stroke="#179bc4" stroke-width="1.2" stroke-dasharray="2.5,1,1,1" fill="none"/>
<path d="M259.21,436.90 V448.90 M257.51,436.90 H260.91 M257.51,448.90 H260.91" stroke="#179bc4" stroke-width="1.2" stroke-dasharray="2.5,1,1,1" fill="none"/>
<path d="M267.04,422.90 V433.10 M265.34,422.90 H268.74 M265.34,433.10 H268.74" stroke="#179bc4" stroke-width="1.2" stroke-dasharray="2.5,1,1,1" fill="none"/>
<path d="M274.87,430.00 V439.40 M273.17,430.00 H276.57 M273.17,439.40 H276.57" stroke="#179bc4" stroke-width="1.2" stroke-dasharray="2.5,1,1,1" fill="none"/>
<path d="M282.70,434.40 V443.30 M281.00,434.40 H284.40 M281.00,443.30 H284.40" stroke="#179bc4" stroke-width="1.2" stroke-dasharray="2.5,1,1,1" fill="none"/>
<path d="M290.53,435.60 V443.30 M288.83,435.60 H292.23 M288.83,443.30 H292.23" stroke="#179bc4" stroke-width="1.2" stroke-dasharray="2.5,1,1,1" fill="none"/>
<path d="M298.36,426.00 V431.80 M296.66,426.00 H300.06 M296.66,431.80 H300.06" stroke="#179bc4" stroke-width="1.2" stroke-dasharray="2.5,1,1,1" fill="none"/>
<path d="M306.19,427.50 V433.60 M304.49,427.50 H307.89 M304.49,433.60 H307.89" stroke="#179bc4" stroke-width="1.2" stroke-dasharray="2.5,1,1,1" fill="none"/>
<path d="M314.02,421.50 V429.50 M312.32,421.50 H315.72 M312.32,429.50 H315.72" stroke="#179bc4" stroke-width="1.2" stroke-dasharray="2.5,1,1,1" fill="none"/>
<path d="M321.85,421.50 V428.50 M320.15,421.50 H323.55 M320.15,428.50 H323.55" stroke="#179bc4" stroke-width="1.2" stroke-dasharray="2.5,1,1,1" fill="none"/>
<path d="M329.68,421.00 V427.50 M327.98,421.00 H331.38 M327.98,427.50 H331.38" stroke="#179bc4" stroke-width="1.2" stroke-dasharray="2.5,1,1,1" fill="none"/>
<path d="M337.51,421.50 V427.50 M335.81,421.50 H339.21 M335.81,427.50 H339.21" stroke="#179bc4" stroke-width="1.2" stroke-dasharray="2.5,1,1,1" fill="none"/>
<path d="M345.34,417.50 V422.50 M343.64,417.50 H347.04 M343.64,422.50 H347.04" stroke="#179bc4" stroke-width="1.2" stroke-dasharray="2.5,1,1,1" fill="none"/>
<path d="M353.17,409.50 V413.50 M351.47,409.50 H354.87 M351.47,413.50 H354.87" stroke="#179bc4" stroke-width="1.2" stroke-dasharray="2.5,1,1,1" fill="none"/>
<path d="M361.00,400.50 V403.50 M359.30,400.50 H362.70 M359.30,403.50 H362.70" stroke="#179bc4" stroke-width="1.2" stroke-dasharray="2.5,1,1,1" fill="none"/>
<path d="M55.62,463.10 L58.83,457.46 L52.41,457.46 Z" fill="#179bc4"/>
<path d="M63.45,429.00 L66.66,423.36 L60.24,423.36 Z" fill="#179bc4"/>
<path d="M71.28,442.70 L74.49,437.06 L68.07,437.06 Z" fill="#179bc4"/>
<path d="M79.11,420.60 L82.32,414.96 L75.90,414.96 Z" fill="#179bc4"/>
<path d="M86.94,462.00 L90.15,456.36 L83.73,456.36 Z" fill="#179bc4"/>
<path d="M94.77,462.00 L97.98,456.36 L91.56,456.36 Z" fill="#179bc4"/>
<path d="M102.60,460.00 L105.81,454.36 L99.39,454.36 Z" fill="#179bc4"/>
<path d="M110.43,449.80 L113.64,444.16 L107.22,444.16 Z" fill="#179bc4"/>
<path d="M118.26,453.70 L121.47,448.06 L115.05,448.06 Z" fill="#179bc4"/>
<path d="M126.09,448.60 L129.30,442.96 L122.88,442.96 Z" fill="#179bc4"/>
<path d="M133.92,446.00 L137.13,440.36 L130.71,440.36 Z" fill="#179bc4"/>
<path d="M141.75,464.70 L144.96,459.06 L138.54,459.06 Z" fill="#179bc4"/>
<path d="M149.58,475.50 L152.79,469.86 L146.37,469.86 Z" fill="#179bc4"/>
<path d="M157.41,452.00 L160.62,446.36 L154.20,446.36 Z" fill="#179bc4"/>
<path d="M165.24,446.20 L168.45,440.56 L162.03,440.56 Z" fill="#179bc4"/>
<path d="M173.07,451.30 L176.28,445.66 L169.86,445.66 Z" fill="#179bc4"/>
<path d="M180.90,475.50 L184.11,469.86 L177.69,469.86 Z" fill="#179bc4"/>
<path d="M188.73,448.00 L191.94,442.36 L185.52,442.36 Z" fill="#179bc4"/>
<path d="M196.56,436.80 L199.77,431.16 L193.35,431.16 Z" fill="#179bc4"/>
<path d="M204.39,443.70 L207.60,438.06 L201.18,438.06 Z" fill="#179bc4"/>
<path d="M212.22,455.10 L215.43,449.46 L209.01,449.46 Z" fill="#179bc4"/>
<path d="M220.05,439.10 L223.26,433.46 L216.84,433.46 Z" fill="#179bc4"/>
<path d="M227.88,441.90 L231.09,436.26 L224.67,436.26 Z" fill="#179bc4"/>
<path d="M235.71,441.80 L238.92,436.16 L232.50,436.16 Z" fill="#179bc4"/>
<path d="M243.55,441.20 L246.76,435.56 L240.34,435.56 Z" fill="#179bc4"/>
<path d="M251.38,432.80 L254.59,427.16 L248.17,427.16 Z" fill="#179bc4"/>
<path d="M259.21,445.50 L262.42,439.86 L256.00,439.86 Z" fill="#179bc4"/>
<path d="M267.04,431.00 L270.25,425.36 L263.83,425.36 Z" fill="#179bc4"/>
<path d="M274.87,437.90 L278.08,432.26 L271.66,432.26 Z" fill="#179bc4"/>
<path d="M282.70,441.70 L285.91,436.06 L279.49,436.06 Z" fill="#179bc4"/>
<path d="M290.53,442.40 L293.74,436.76 L287.32,436.76 Z" fill="#179bc4"/>
<path d="M298.36,432.00 L301.57,426.36 L295.15,426.36 Z" fill="#179bc4"/>
<path d="M306.19,434.00 L309.40,428.36 L302.98,428.36 Z" fill="#179bc4"/>
<path d="M314.02,428.90 L317.23,423.26 L310.81,423.26 Z" fill="#179bc4"/>
<path d="M321.85,428.50 L325.06,422.86 L318.64,422.86 Z" fill="#179bc4"/>
<path d="M329.68,427.70 L332.89,422.06 L326.47,422.06 Z" fill="#179bc4"/>
<path d="M337.51,427.90 L340.72,422.26 L334.30,422.26 Z" fill="#179bc4"/>
<path d="M345.34,423.60 L348.55,417.96 L342.13,417.96 Z" fill="#179bc4"/>
<path d="M353.17,415.00 L356.38,409.36 L349.96,409.36 Z" fill="#179bc4"/>
<path d="M361.00,405.60 L364.21,399.96 L357.79,399.96 Z" fill="#179bc4"/>
</g>
<rect x="44.9" y="16.9" width="1.2" height="461.7" fill="#000"/>
<rect x="44.9" y="16.9" width="327.2" height="1.2" fill="#000"/>
<rect x="370.1" y="16.9" width="2" height="461.7" fill="#000"/>
<rect x="44.9" y="476.8" width="327.2" height="1.8" fill="#000"/>
<rect x="44.9" y="316.8" width="327.2" height="1.3" fill="#000"/>
<path d="M51.70,17.50 L51.70,25.90 M51.70,317.50 L51.70,309.10 M51.70,317.50 L51.70,322.80 M51.70,477.50 L51.70,472.90 M61.67,17.50 L61.67,20.00 M61.67,317.50 L61.67,315.00 M61.67,317.50 L61.67,319.00 M61.67,477.50 L61.67,476.00 M71.64,17.50 L71.64,22.00 M71.64,317.50 L71.64,313.00 M71.64,317.50 L71.64,320.20 M71.64,477.50 L71.64,475.00 M81.61,17.50 L81.61,20.00 M81.61,317.50 L81.61,315.00 M81.61,317.50 L81.61,319.00 M81.61,477.50 L81.61,476.00 M91.58,17.50 L91.58,22.00 M91.58,317.50 L91.58,313.00 M91.58,317.50 L91.58,320.20 M91.58,477.50 L91.58,475.00 M101.55,17.50 L101.55,20.00 M101.55,317.50 L101.55,315.00 M101.55,317.50 L101.55,319.00 M101.55,477.50 L101.55,476.00 M111.52,17.50 L111.52,22.00 M111.52,317.50 L111.52,313.00 M111.52,317.50 L111.52,320.20 M111.52,477.50 L111.52,475.00 M121.49,17.50 L121.49,20.00 M121.49,317.50 L121.49,315.00 M121.49,317.50 L121.49,319.00 M121.49,477.50 L121.49,476.00 M131.46,17.50 L131.46,22.00 M131.46,317.50 L131.46,313.00 M131.46,317.50 L131.46,320.20 M131.46,477.50 L131.46,475.00 M141.43,17.50 L141.43,20.00 M141.43,317.50 L141.43,315.00 M141.43,317.50 L141.43,319.00 M141.43,477.50 L141.43,476.00 M151.40,17.50 L151.40,25.90 M151.40,317.50 L151.40,309.10 M151.40,317.50 L151.40,322.80 M151.40,477.50 L151.40,472.90 M161.37,17.50 L161.37,20.00 M161.37,317.50 L161.37,315.00 M161.37,317.50 L161.37,319.00 M161.37,477.50 L161.37,476.00 M171.34,17.50 L171.34,22.00 M171.34,317.50 L171.34,313.00 M171.34,317.50 L171.34,320.20 M171.34,477.50 L171.34,475.00 M181.31,17.50 L181.31,20.00 M181.31,317.50 L181.31,315.00 M181.31,317.50 L181.31,319.00 M181.31,477.50 L181.31,476.00 M191.28,17.50 L191.28,22.00 M191.28,317.50 L191.28,313.00 M191.28,317.50 L191.28,320.20 M191.28,477.50 L191.28,475.00 M201.25,17.50 L201.25,20.00 M201.25,317.50 L201.25,315.00 M201.25,317.50 L201.25,319.00 M201.25,477.50 L201.25,476.00 M211.22,17.50 L211.22,22.00 M211.22,317.50 L211.22,313.00 M211.22,317.50 L211.22,320.20 M211.22,477.50 L211.22,475.00 M221.19,17.50 L221.19,20.00 M221.19,317.50 L221.19,315.00 M221.19,317.50 L221.19,319.00 M221.19,477.50 L221.19,476.00 M231.16,17.50 L231.16,22.00 M231.16,317.50 L231.16,313.00 M231.16,317.50 L231.16,320.20 M231.16,477.50 L231.16,475.00 M241.13,17.50 L241.13,20.00 M241.13,317.50 L241.13,315.00 M241.13,317.50 L241.13,319.00 M241.13,477.50 L241.13,476.00 M251.10,17.50 L251.10,25.90 M251.10,317.50 L251.10,309.10 M251.10,317.50 L251.10,322.80 M251.10,477.50 L251.10,472.90 M261.07,17.50 L261.07,20.00 M261.07,317.50 L261.07,315.00 M261.07,317.50 L261.07,319.00 M261.07,477.50 L261.07,476.00 M271.04,17.50 L271.04,22.00 M271.04,317.50 L271.04,313.00 M271.04,317.50 L271.04,320.20 M271.04,477.50 L271.04,475.00 M281.01,17.50 L281.01,20.00 M281.01,317.50 L281.01,315.00 M281.01,317.50 L281.01,319.00 M281.01,477.50 L281.01,476.00 M290.98,17.50 L290.98,22.00 M290.98,317.50 L290.98,313.00 M290.98,317.50 L290.98,320.20 M290.98,477.50 L290.98,475.00 M300.95,17.50 L300.95,20.00 M300.95,317.50 L300.95,315.00 M300.95,317.50 L300.95,319.00 M300.95,477.50 L300.95,476.00 M310.92,17.50 L310.92,22.00 M310.92,317.50 L310.92,313.00 M310.92,317.50 L310.92,320.20 M310.92,477.50 L310.92,475.00 M320.89,17.50 L320.89,20.00 M320.89,317.50 L320.89,315.00 M320.89,317.50 L320.89,319.00 M320.89,477.50 L320.89,476.00 M330.86,17.50 L330.86,22.00 M330.86,317.50 L330.86,313.00 M330.86,317.50 L330.86,320.20 M330.86,477.50 L330.86,475.00 M340.83,17.50 L340.83,20.00 M340.83,317.50 L340.83,315.00 M340.83,317.50 L340.83,319.00 M340.83,477.50 L340.83,476.00 M350.80,17.50 L350.80,25.90 M350.80,317.50 L350.80,309.10 M350.80,317.50 L350.80,322.80 M350.80,477.50 L350.80,472.90 M360.77,17.50 L360.77,20.00 M360.77,317.50 L360.77,315.00 M360.77,317.50 L360.77,319.00 M360.77,477.50 L360.77,476.00 M370.74,17.50 L370.74,22.00 M370.74,317.50 L370.74,313.00 M370.74,317.50 L370.74,320.20 M370.74,477.50 L370.74,475.00 M45.50,314.46 L51.50,314.46 M371.00,314.46 L365.00,314.46 M45.50,310.67 L51.50,310.67 M371.00,310.67 L365.00,310.67 M45.50,307.39 L51.50,307.39 M371.00,307.39 L365.00,307.39 M45.50,304.49 L51.50,304.49 M371.00,304.49 L365.00,304.49 M45.50,301.90 L56.50,301.90 M371.00,301.90 L360.00,301.90 M45.50,284.86 L51.50,284.86 M371.00,284.86 L365.00,284.86 M45.50,274.89 L51.50,274.89 M371.00,274.89 L365.00,274.89 M45.50,267.82 L51.50,267.82 M371.00,267.82 L365.00,267.82 M45.50,262.34 L51.50,262.34 M371.00,262.34 L365.00,262.34 M45.50,257.86 L51.50,257.86 M371.00,257.86 L365.00,257.86 M45.50,254.07 L51.50,254.07 M371.00,254.07 L365.00,254.07 M45.50,250.79 L51.50,250.79 M371.00,250.79 L365.00,250.79 M45.50,247.89 L51.50,247.89 M371.00,247.89 L365.00,247.89 M45.50,245.30 L56.50,245.30 M371.00,245.30 L360.00,245.30 M45.50,228.26 L51.50,228.26 M371.00,228.26 L365.00,228.26 M45.50,218.29 L51.50,218.29 M371.00,218.29 L365.00,218.29 M45.50,211.22 L51.50,211.22 M371.00,211.22 L365.00,211.22 M45.50,205.74 L51.50,205.74 M371.00,205.74 L365.00,205.74 M45.50,201.26 L51.50,201.26 M371.00,201.26 L365.00,201.26 M45.50,197.47 L51.50,197.47 M371.00,197.47 L365.00,197.47 M45.50,194.19 L51.50,194.19 M371.00,194.19 L365.00,194.19 M45.50,191.29 L51.50,191.29 M371.00,191.29 L365.00,191.29 M45.50,188.70 L56.50,188.70 M371.00,188.70 L360.00,188.70 M45.50,171.66 L51.50,171.66 M371.00,171.66 L365.00,171.66 M45.50,161.69 L51.50,161.69 M371.00,161.69 L365.00,161.69 M45.50,154.62 L51.50,154.62 M371.00,154.62 L365.00,154.62 M45.50,149.14 L51.50,149.14 M371.00,149.14 L365.00,149.14 M45.50,144.66 L51.50,144.66 M371.00,144.66 L365.00,144.66 M45.50,140.87 L51.50,140.87 M371.00,140.87 L365.00,140.87 M45.50,137.59 L51.50,137.59 M371.00,137.59 L365.00,137.59 M45.50,134.69 L51.50,134.69 M371.00,134.69 L365.00,134.69 M45.50,132.10 L56.50,132.10 M371.00,132.10 L360.00,132.10 M45.50,115.06 L51.50,115.06 M371.00,115.06 L365.00,115.06 M45.50,105.09 L51.50,105.09 M371.00,105.09 L365.00,105.09 M45.50,98.02 L51.50,98.02 M371.00,98.02 L365.00,98.02 M45.50,92.54 L51.50,92.54 M371.00,92.54 L365.00,92.54 M45.50,88.06 L51.50,88.06 M371.00,88.06 L365.00,88.06 M45.50,84.27 L51.50,84.27 M371.00,84.27 L365.00,84.27 M45.50,80.99 L51.50,80.99 M371.00,80.99 L365.00,80.99 M45.50,78.09 L51.50,78.09 M371.00,78.09 L365.00,78.09 M45.50,75.50 L56.50,75.50 M371.00,75.50 L360.00,75.50 M45.50,58.46 L51.50,58.46 M371.00,58.46 L365.00,58.46 M45.50,48.49 L51.50,48.49 M371.00,48.49 L365.00,48.49 M45.50,41.42 L51.50,41.42 M371.00,41.42 L365.00,41.42 M45.50,35.94 L51.50,35.94 M371.00,35.94 L365.00,35.94 M45.50,31.46 L51.50,31.46 M371.00,31.46 L365.00,31.46 M45.50,27.67 L51.50,27.67 M371.00,27.67 L365.00,27.67 M45.50,24.39 L51.50,24.39 M371.00,24.39 L365.00,24.39 M45.50,21.49 L51.50,21.49 M371.00,21.49 L365.00,21.49 M45.50,18.90 L56.50,18.90 M371.00,18.90 L360.00,18.90 M45.50,458.14 L52.50,458.14 M371.00,458.14 L364.00,458.14 M45.50,442.21 L50.00,442.21 M371.00,442.21 L366.50,442.21 M45.50,428.75 L50.00,428.75 M371.00,428.75 L366.50,428.75 M45.50,417.09 L50.00,417.09 M371.00,417.09 L366.50,417.09 M45.50,406.80 L50.00,406.80 M371.00,406.80 L366.50,406.80 M45.50,397.60 L52.50,397.60 M371.00,397.60 L364.00,397.60 M45.50,389.28 L50.00,389.28 M371.00,389.28 L366.50,389.28 M45.50,381.68 L50.00,381.68 M371.00,381.68 L366.50,381.68 M45.50,374.69 L50.00,374.69 M371.00,374.69 L366.50,374.69 M45.50,368.21 L50.00,368.21 M371.00,368.21 L366.50,368.21 M45.50,362.19 L52.50,362.19 M371.00,362.19 L364.00,362.19 M45.50,356.55 L50.00,356.55 M371.00,356.55 L366.50,356.55 M45.50,351.26 L50.00,351.26 M371.00,351.26 L366.50,351.26 M45.50,346.26 L50.00,346.26 M371.00,346.26 L366.50,346.26 M45.50,341.54 L50.00,341.54 M371.00,341.54 L366.50,341.54 M45.50,337.06 L52.50,337.06 M371.00,337.06 L364.00,337.06 M45.50,332.80 L50.00,332.80 M371.00,332.80 L366.50,332.80 M45.50,328.74 L50.00,328.74 M371.00,328.74 L366.50,328.74 M45.50,324.86 L50.00,324.86 M371.00,324.86 L366.50,324.86 M45.50,321.14 L50.00,321.14 M371.00,321.14 L366.50,321.14 M45.50,317.57 L50.00,317.57 M371.00,317.57 L366.50,317.57" stroke="#000" stroke-width="1" fill="none"/>
<text x="50.5" y="13.8" font-size="12" text-anchor="start" fill="#000" >1960 GeV ppbar</text>
<text x="368" y="13.8" font-size="12.3" text-anchor="end" fill="#000" >Top (parton level)</text>
<text x="39.50" y="22.90" font-size="10.9" text-anchor="end">10<tspan font-size="6.6" dx="0" dy="-4.6">3</tspan></text>
<text x="39.50" y="79.50" font-size="10.9" text-anchor="end">10<tspan font-size="6.6" dx="0" dy="-4.6">2</tspan></text>
<text x="39.9" y="136.80" font-size="10.9" text-anchor="end" fill="#000" >10</text>
<text x="39.9" y="192.60" font-size="10.9" text-anchor="end" fill="#000" >1</text>
<text x="40.90" y="250.20" font-size="10.9" text-anchor="end">10<tspan font-size="6.6" dx="0.3" dy="-4.2">&#8722;1</tspan></text>
<text x="39.70" y="306.80" font-size="10.9" text-anchor="end">10<tspan font-size="6.6" dx="-0.3" dy="-4.2">&#8722;2</tspan></text>
<text x="38.5" y="340.96" font-size="10.9" text-anchor="end" fill="#000" >2</text>
<text x="374" y="340.96" font-size="10.9" text-anchor="start" fill="#000" >2</text>
<text x="38.5" y="401.50" font-size="10.9" text-anchor="end" fill="#000" >1</text>
<text x="374" y="401.50" font-size="10.9" text-anchor="start" fill="#000" >1</text>
<text x="38.5" y="462.04" font-size="10.9" text-anchor="end" fill="#000" >0.5</text>
<text x="374" y="462.04" font-size="10.9" text-anchor="start" fill="#000" >0.5</text>
<text x="51.70" y="489" font-size="10.9" text-anchor="middle" fill="#000" >0</text>
<text x="151.40" y="489" font-size="10.9" text-anchor="middle" fill="#000" >1</text>
<text x="251.10" y="489" font-size="10.9" text-anchor="middle" fill="#000" >2</text>
<text x="350.80" y="489" font-size="10.9" text-anchor="middle" fill="#000" >3</text>
<text x="186.5" y="42.7" font-size="9.8" text-anchor="start" fill="#000" textLength="44" lengthAdjust="spacingAndGlyphs">&#916;&#981; (ttbar)</text>
<line x1="64" y1="62.3" x2="89" y2="62.3" stroke="#0000e6" stroke-width="1.1" stroke-opacity="0.8"/>
<path d="M76.60,59.40 L79.60,64.66 L73.60,64.66 Z" fill="#0000e6"/>
<line x1="64" y1="75" x2="89" y2="75" stroke="#179bc4" stroke-width="1" stroke-opacity="0.75" stroke-dasharray="3.5,2,0.8,2"/>
<path d="M76.60,77.60 L79.60,72.34 L73.60,72.34 Z" fill="#179bc4"/>
<text x="94" y="64.6" font-size="9.45" text-anchor="start" fill="#000" >Pythia 8.315 default</text>
<text x="94" y="77.7" font-size="9.45" text-anchor="start" fill="#000" >Pythia 8.315 vincia-default</text>
<text x="173.7" y="301.8" font-size="7.9" text-anchor="start" fill="#999" >(MC_FBA_TTBAR)</text>
<text transform="translate(379.7,126.9) rotate(-90)" font-size="9.45" fill="#666">Rivet 4.1.0, &#8805; 100k events</text>
<text transform="translate(380.8,313.3) rotate(-90)" font-size="9.36" fill="#666">mcplots.cern.ch [arXiv:2401.10621]</text>
<text transform="translate(17.0,452.4) rotate(-90)" font-size="9.03" fill="#000">Ratio to Pythia 8.315 default</text>
</svg></body></html>
